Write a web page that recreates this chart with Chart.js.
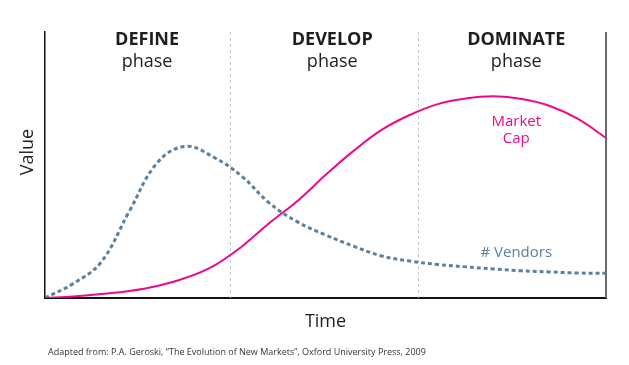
<!DOCTYPE html>
<html>
<head>
<meta charset="utf-8">
<script src="https://cdn.jsdelivr.net/npm/chart.js@4.4.1/dist/chart.umd.min.js"></script>
<style>
  html, body { margin: 0; padding: 0; background: #fff; }
</style>
</head>
<body>
<canvas id="chart" width="629" height="365"></canvas>
<script>
// data (time and value in 0-100 units)
const timeX = [0, 5, 10, 15, 20, 25, 30, 35, 40, 45, 50, 55, 60, 65, 70, 75, 80, 85, 90, 95, 100];
const marketCap = [0, 0.6, 1.5, 2.6, 4.5, 7.5, 12.0, 19.2, 28.2, 36.5, 46.2, 55.3, 63.2, 68.8, 72.9, 75.0, 75.8, 74.8, 72.2, 67.3, 60.2];
const vendors = [0, 5.4, 13.5, 32.5, 50.8, 57.0, 53.0, 45.9, 35.7, 28.6, 23.7, 19.5, 15.8, 13.9, 12.6, 11.7, 10.9, 10.2, 9.8, 9.4, 9.3];
const phaseNames = ['DEFINE', 'DEVELOP', 'DOMINATE'];
const phaseBounds = [33, 66.5];
const seriesNames = ['Market Cap', '# Vendors'];
const footnote = 'Adapted from: P.A. Geroski, \u201cThe Evolution of New Markets\u201d, Oxford University Press, 2009';

const PINK = '#ec0a8c';
const BLUE = '#5b819e';
const FONT = "'Open Sans', 'Noto Sans', sans-serif";

function toPoints(values) {
    return values.map((v, i) => ({ x: timeX[i], y: v }));
}

// phase separators, right frame, phase headings, curve labels and footnote
const decorPlugin = {
    id: 'decor',
    beforeDatasetsDraw(chart) {
        const { ctx, chartArea: a, scales: { x } } = chart;
        ctx.save();
        ctx.strokeStyle = '#c4c4c4';
        ctx.lineWidth = 1;
        ctx.setLineDash([3, 3]);
        phaseBounds.forEach(v => {
            const px = Math.round(x.getPixelForValue(v)) + 0.5;
            ctx.beginPath();
            ctx.moveTo(px, a.top);
            ctx.lineTo(px, a.bottom);
            ctx.stroke();
        });
        ctx.setLineDash([]);
        ctx.strokeStyle = '#6a6a6a';
        ctx.lineWidth = 2;
        ctx.beginPath();
        ctx.moveTo(a.right, a.top);
        ctx.lineTo(a.right, a.bottom);
        ctx.stroke();
        ctx.restore();
    },
    afterDatasetsDraw(chart) {
        const { ctx, scales: { x, y } } = chart;
        ctx.save();
        ctx.textAlign = 'center';
        ctx.textBaseline = 'alphabetic';

        // phase headings
        const centers = [18.2, 51.2, 84];
        phaseNames.forEach((name, i) => {
            const cx = x.getPixelForValue(centers[i]);
            ctx.fillStyle = '#1e1e1e';
            ctx.font = 'bold 18px ' + FONT;
            ctx.fillText(name, cx, 45);
            ctx.font = '18px ' + FONT;
            ctx.fillText('phase', cx, 67);
        });

        // y axis title, sits a little above the middle of the axis
        ctx.save();
        ctx.translate(28, 152);
        ctx.rotate(-Math.PI / 2);
        ctx.textBaseline = 'middle';
        ctx.fillStyle = '#1e1e1e';
        ctx.font = '18px ' + FONT;
        ctx.fillText('Value', 0, 0);
        ctx.restore();

        // curve labels
        ctx.font = '15px ' + FONT;
        ctx.fillStyle = PINK;
        const mc = seriesNames[0].split(' ');
        ctx.fillText(mc[0], x.getPixelForValue(84), y.getPixelForValue(64.8));
        ctx.fillText(mc[1], x.getPixelForValue(84), y.getPixelForValue(58.3));
        ctx.fillStyle = BLUE;
        ctx.fillText(seriesNames[1], x.getPixelForValue(84), y.getPixelForValue(15.4));

        // source note
        ctx.textAlign = 'left';
        ctx.font = '9px ' + FONT;
        ctx.fillStyle = '#333';
        ctx.fillText(footnote, 48, 355);
        ctx.restore();
    }
};

const ctx = document.getElementById('chart').getContext('2d');
new Chart(ctx, {
    type: 'line',
    data: {
        datasets: [{
            label: seriesNames[0],
            data: toPoints(marketCap),
            borderColor: PINK,
            borderWidth: 2,
            pointRadius: 0,
            tension: 0.4,
            fill: false
        }, {
            label: seriesNames[1],
            data: toPoints(vendors),
            borderColor: BLUE,
            borderWidth: 3,
            borderDash: [4, 3],
            pointRadius: 0,
            tension: 0.4,
            fill: false
        }]
    },
    options: {
        responsive: false,
        animation: false,
        layout: { padding: { left: 0, right: 23, top: 32, bottom: 0 } },
        plugins: {
            legend: { display: false },
            tooltip: { enabled: false }
        },
        scales: {
            x: {
                type: 'linear',
                min: 0,
                max: 100,
                grid: { display: false },
                ticks: { display: false },
                border: { display: true, color: '#111', width: 2 },
                title: {
                    display: true,
                    text: 'Time',
                    color: '#1e1e1e',
                    font: { family: FONT, size: 18 },
                    padding: { top: 0, bottom: 32 }
                },
                afterFit(scale) { scale.height = 67; }
            },
            y: {
                min: 0,
                max: 100,
                grid: { display: false },
                ticks: { display: false },
                border: { display: true, color: '#111', width: 1.5 },
                title: { display: false },
                afterFit(scale) { scale.width = 45; }
            }
        }
    },
    plugins: [decorPlugin]
});
</script>
</body>
</html>
